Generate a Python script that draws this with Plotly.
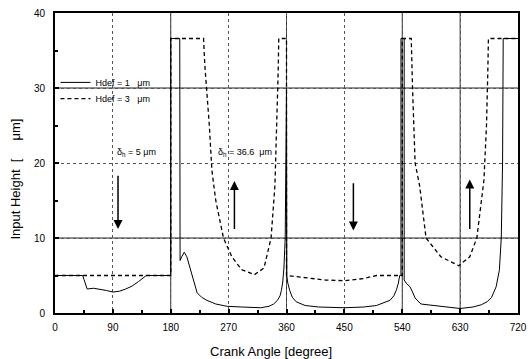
import plotly.graph_objects as go

# Hdef = 1 um (solid)
ang1 = [0, 43, 45, 50, 60, 70, 80, 90, 100, 110, 120, 130, 138, 142, 180, 180, 194, 194.5,
        197, 201, 205, 211, 216, 221, 228, 236, 250, 267, 290, 308, 320, 333, 340, 346,
        350, 352, 354, 356, 358, 360, 360.5, 362, 365, 369, 375, 389, 410, 450, 480, 500,
        510, 521, 527, 531, 534, 536, 538, 538, 543, 543, 546, 552, 556, 560, 569, 587,
        613, 630, 650, 663, 672, 679, 686, 691, 694, 696, 697, 720]
h1 = [5, 5, 4.5, 3.2, 3.3, 3.2, 3.0, 2.8, 2.9, 3.2, 3.6, 4.2, 4.8, 5, 5, 36.6, 36.6, 7.0,
      7.5, 8.1, 7.5, 5.7, 4.0, 2.7, 2.1, 1.7, 1.2, 0.9, 0.8, 0.7, 0.7, 0.9, 1.2, 1.7,
      2.3, 3.0, 4.0, 6.0, 10, 30, 5, 4, 3, 2.1, 1.5, 1.0, 0.8, 0.7, 0.8, 1.0,
      1.3, 1.7, 2.3, 3.1, 4.0, 5.0, 5.0, 36.6, 36.6, 4.4, 4.0, 3.5, 2.8, 2.0, 1.2, 1.0,
      0.7, 0.6, 0.8, 1.1, 1.5, 2.1, 3.5, 5.7, 10, 20, 36.6, 36.6]

# Hdef = 3 um (dashed)
ang3 = [0, 180, 180, 231, 233, 236, 240, 244, 250, 262, 275, 290, 310, 325, 336, 342, 345,
        347, 348, 360, 360, 380, 420, 450, 480, 500, 540, 540, 554, 556, 560, 567, 577,
        600, 628, 645, 656, 667, 671, 673, 674, 720]
h3 = [5, 5, 36.6, 36.6, 33, 30, 25, 19, 15, 10, 7.5, 5.8, 5.1, 6, 10, 17, 25,
      32, 36.6, 36.6, 5, 4.8, 4.4, 4.3, 4.6, 5, 5, 36.6, 36.6, 30, 20, 17, 10,
      7.5, 6.3, 7.5, 10, 17.7, 25, 32, 36.6, 36.6]

xticks = [0, 90, 180, 270, 360, 450, 540, 630, 720]
yticks = [0, 10, 20, 30, 40]

# arrows: (x, y_tail, y_head)
arrows = [(98, 18.5, 11.2), (279, 11.0, 17.6), (464, 17.5, 11.0), (645, 11.0, 17.8)]

FONT = "Liberation Sans, Arial, sans-serif"

fig = go.Figure()
fig.add_trace(go.Scatter(x=ang1, y=h1, mode="lines", name="Hdef = 1&nbsp;&nbsp;&nbsp;μm",
                         line=dict(color="black", width=1), legend="legend"))
fig.add_trace(go.Scatter(x=ang3, y=h3, mode="lines", name="Hdef = 3&nbsp;&nbsp;&nbsp;μm",
                         line=dict(color="black", width=1.3, dash="4px,3px"), legend="legend2"))

# solid reference lines
for yv in [10, 30]:
    fig.add_shape(type="line", xref="x", yref="y", x0=0, x1=720, y0=yv, y1=yv,
                  line=dict(color="#222", width=1), layer="below")
for xv in [180, 360, 540, 630]:
    fig.add_shape(type="line", xref="x", yref="y", x0=xv, x1=xv, y0=0, y1=40,
                  line=dict(color="#333", width=1), layer="below")

for x, y0, y1 in arrows:
    fig.add_annotation(x=x, y=y1, ax=x, ay=y0, xref="x", yref="y", axref="x", ayref="y",
                       showarrow=True, arrowhead=2, arrowsize=1.2, arrowwidth=1.5,
                       arrowcolor="black", text="")

fig.add_annotation(x=95, y=21.4, xref="x", yref="y", xanchor="left", showarrow=False,
                   xshift=-1,
                   text="δ<sub>h</sub> = 5 μm", font=dict(family=FONT, size=9, color="black"))
fig.add_annotation(x=252, y=21.4, xref="x", yref="y", xanchor="left", showarrow=False,
                   xshift=-1,
                   text="δ<sub>h</sub> = 36.6  μm", font=dict(family=FONT, size=9, color="black"))

fig.add_annotation(x=0.5, y=-0.128, xref="paper", yref="paper", showarrow=False,
                   xshift=-16, yanchor="middle",
                   text="Crank Angle [degree]", font=dict(family=FONT, size=13, color="black"))
fig.add_annotation(x=-0.085, y=0.447, xref="paper", yref="paper", showarrow=False,
                   textangle=-90, xanchor="center", yanchor="middle",
                   text="Input Height&nbsp;&nbsp;[&nbsp;&nbsp;&nbsp;&nbsp;&nbsp;μm]",
                   font=dict(family=FONT, size=13, color="black"))

axis_common = dict(showline=True, linecolor="black", linewidth=2, mirror=True,
                   ticks="inside", ticklen=4, tickcolor="black", tickwidth=1.5,
                   showgrid=True, gridcolor="#555", griddash="dot", gridwidth=1,
                   zeroline=False, ticklabeloverflow="allow",
                   tickfont=dict(family=FONT, size=10, color="black"))

fig.update_xaxes(range=[0, 720], tickvals=xticks, ticktext=[str(v) for v in xticks],
                 minor=dict(dtick=45, ticks="inside", ticklen=3, tickcolor="black"),
                 ticklabelstandoff=4, **axis_common)
fig.update_yaxes(range=[0, 40], tickvals=yticks, ticktext=[str(v) for v in yticks],
                 minor=dict(dtick=5, ticks="inside", ticklen=3, tickcolor="black"),
                 ticklabelstandoff=6, **axis_common)

leg_common = dict(xanchor="left", yanchor="top", bgcolor="rgba(0,0,0,0)",
                  font=dict(family=FONT, size=9, color="black"), itemwidth=30)
fig.update_layout(
    width=532, height=359,
    margin=dict(l=55, r=5, t=13, b=46),
    paper_bgcolor="white", plot_bgcolor="white",
    showlegend=True,
    legend=dict(x=0.001, y=0.817, **leg_common),
    legend2=dict(x=0.001, y=0.763, **leg_common),
    font=dict(family=FONT, color="black"),
)

fig.write_html("out.html", config={"displayModeBar": False},
               post_script="document.body.style.margin='0px';")
